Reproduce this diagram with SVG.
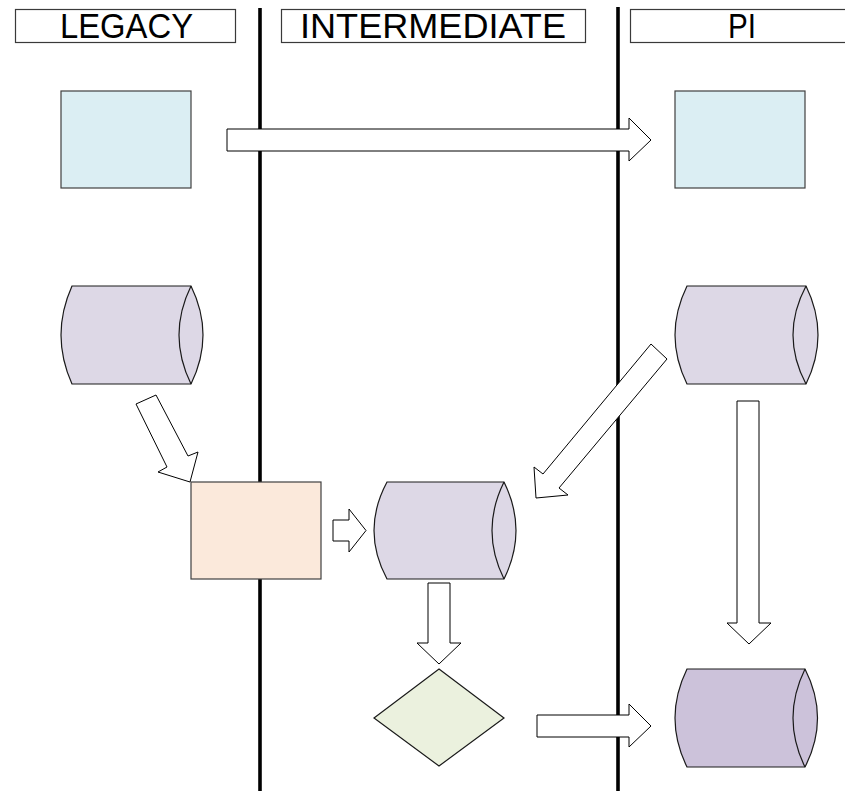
<svg xmlns="http://www.w3.org/2000/svg" width="845" height="791" viewBox="0 0 845 791">
<style>
.hdr{fill:#ffffff;stroke:#3a3a3a;stroke-width:1.2}
.htxt{font-family:"Liberation Sans","DejaVu Sans",sans-serif;font-size:35px;fill:#000}
.lane{stroke:#000;stroke-width:3.6}
.blue{fill:#dbeef3;stroke:#404040;stroke-width:1.2}
.orange{fill:#fbe9db;stroke:#404040;stroke-width:1.2}
.cyl{fill:#ddd8e6;stroke:#1a1a1a;stroke-width:1.2}
.cyl2{fill:#ccc2da;stroke:#1a1a1a;stroke-width:1.2}
.inner{fill:none;stroke:#1a1a1a;stroke-width:1.2}
.dia{fill:#ebf1de;stroke:#1a1a1a;stroke-width:1.2}
.arr{fill:#ffffff;stroke:#000;stroke-width:1;stroke-linejoin:miter}
</style>
<rect width="845" height="791" fill="#ffffff"/>
<g id="headers">
  <g id="hdr-legacy">
    <rect class="hdr" x="15.5" y="9.5" width="220" height="33"/>
    <text class="htxt" x="60" y="38" textLength="133" lengthAdjust="spacingAndGlyphs">LEGACY</text>
  </g>
  <g id="hdr-intermediate">
    <rect class="hdr" x="281.5" y="9.5" width="304" height="33"/>
    <text class="htxt" x="300" y="38" textLength="266" lengthAdjust="spacingAndGlyphs">INTERMEDIATE</text>
  </g>
  <g id="hdr-pi">
    <rect class="hdr" x="630.5" y="9.5" width="220" height="33"/>
    <text class="htxt" x="728" y="38" textLength="28" lengthAdjust="spacingAndGlyphs">PI</text>
  </g>
</g>
<g id="lanes">
  <line class="lane" x1="260" y1="8" x2="260" y2="791"/>
  <line class="lane" x1="618" y1="7" x2="618" y2="791"/>
</g>
<g id="legacy-rect"><rect class="blue" x="61" y="91" width="130" height="97"/></g>
<g id="pi-rect"><rect class="blue" x="675" y="91" width="130" height="97"/></g>
<g id="legacy-cyl">
  <path class="cyl" d="M72,286 L191,286 Q215,335 191,384 L72,384 Q50,335 72,286 Z"/>
  <path class="inner" d="M191,286 Q167,335 191,384"/>
</g>
<g id="pi-cyl">
  <path class="cyl" d="M687,286 L806,286 Q830,335 806,384 L687,384 Q663,335 687,286 Z"/>
  <path class="inner" d="M806,286 Q780,335 806,384"/>
</g>
<g id="orange-rect"><rect class="orange" x="191" y="482" width="130" height="97"/></g>
<g id="mid-cyl">
  <path class="cyl" d="M387,482 L504,482 Q528,530.5 504,579 L387,579 Q361,530.5 387,482 Z"/>
  <path class="inner" d="M504,482 Q480,530.5 504,579"/>
</g>
<g id="diamond"><polygon class="dia" points="439,669 504,718 439,766 374,718"/></g>
<g id="pi-cyl-bottom">
  <path class="cyl2" d="M687,669 L805,669 Q830,718 805,767 L687,767 Q663,718 687,669 Z"/>
  <path class="inner" d="M805,669 Q781,718 805,767"/>
</g>
<g id="connectors">
  <polygon class="arr" points="227,129 629,129 629,118 651,140 629,161 629,151 227,151"/>
  <polygon class="arr" points="136,404 156,395 188,456 198,452 190,482 158,472 167,467"/>
  <polygon class="arr" points="651,344 667,359 559,488 568,495 536,498 534,467 543,474"/>
  <polygon class="arr" points="737,401 759,401 759,623 771,623 749,644 727,623 737,623"/>
  <polygon class="arr" points="333,520 349,520 349,509 366,530.5 349,552 349,541 333,541"/>
  <polygon class="arr" points="428,583 450,583 450,643 461,643 439,664 417,643 428,643"/>
  <polygon class="arr" points="537,715 629,715 629,704 651,726 629,747 629,737 537,737"/>
</g>
</svg>
